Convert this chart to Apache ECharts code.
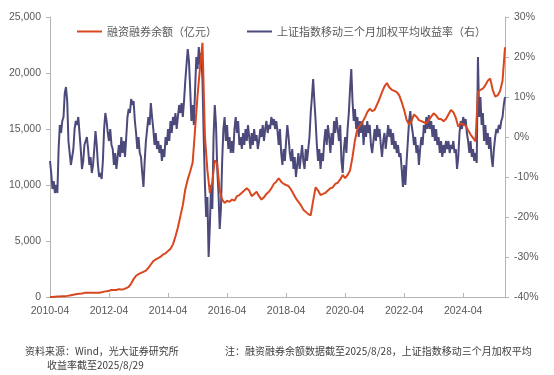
<!DOCTYPE html>
<html>
<head>
<meta charset="utf-8">
<script src="https://cdn.jsdelivr.net/npm/echarts@6/dist/echarts.min.js"></script>
<style>
  html, body { margin: 0; padding: 0; background: #fff; }
  #chart { width: 554px; height: 375px; }
</style>
</head>
<body>
<div id="chart"></div>
<script>
// series names (legend)
const seriesNames = ["融资融券余额（亿元）", "上证指数移动三个月加权平均收益率（右）"];

// x tick labels, one every 2 years starting 2010-04
const xLabels = ["2010-04", "2012-04", "2014-04", "2016-04", "2018-04", "2020-04", "2022-04", "2024-04"];

// margin balance, monthly from 2010-04 to 2025-08 end (亿元)
const marginBalance = [
  1, 10, 25, 35, 45, 60, 75, 100, 127,
  180, 230, 270, 300, 320, 370, 390, 380, 370, 380, 390, 382,
  430, 480, 510, 560, 620, 620, 620, 700, 680, 700, 800, 900,
  1200, 1600, 1900, 2050, 2150, 2250, 2350, 2600, 2900, 3200, 3350, 3480,
  3600, 3800, 3900, 4100, 4300, 4700, 5400, 6200, 7200, 8200, 9600, 10500,
  11200, 12000, 15000, 18000, 20500, 22700, 14300, 11300, 9300, 10300, 12200, 11900,
  9500, 8700, 8400, 8600, 8500, 8700, 8600, 9000, 9100, 9300, 9500, 9700,
  9500, 9000, 9200, 9400, 9000, 8700, 8900, 9200, 9400, 9700, 10100, 10300,
  10600, 10300, 10100, 10000, 9900, 9600, 9200, 8800, 8500, 8200, 7800, 7600,
  7400, 7300, 8600, 9800, 9500, 9100, 9200, 9300, 9500, 9700, 9800, 10100,
  10200, 10500, 10900, 10600, 10900, 11300, 12500, 14000, 15000, 15300, 15600, 16000,
  16500, 16800, 16600, 16700, 17200, 17700, 18300, 18800, 19100, 18700, 18500, 18400,
  18300, 18000, 17400, 16700, 15800, 15400, 15700, 16300, 16100, 15800, 15700, 15600,
  15500, 15800, 16100, 16400, 16200, 15900, 15900, 15700, 15900, 16300, 16700, 16500,
  16000, 15200, 15500, 15400, 15300, 14900, 14500, 14200, 13900, 18300, 18500, 18600,
  18900, 19300, 19500, 18500, 17900, 18000, 18400, 19300, 22300
];

// SSE 3-month weighted moving return, half-monthly from 2010-04 (%)
const indexReturn = [
  -6, -9, -13, -11, -14, -12, -14, -3, 3, 1, 4, 5, 11, 12.5, 9, -1, -4, -7,
  -7, -3, 2, 4, 3, 5, 1, -3, -8, -6, -2, -1, 0, -3, -7, -5, -9, -7, -3, 1.5, -2, -7, -10, -9,
  -10.5, -6, 2, 6, 4, 1, -1, 2, -2, -3, -7, -4, -8, -5, -2, -5, 0, -4, -1, -5, 0, 5, 7, 6,
  9.5, 8, 9, 4, 1, -3, 0, -4, -5, -9, -12.5, -6, -1, 2, 5, 3, 8.5, 5, 2, -2, 1, -3, -1, -4,
  -2, -6, -3, -5, 0, -2, 2, -1, 4, 1, 5, 3, 6, 2, 5, 8, 6, 8.5, 5, 9, 14, 18, 22, 19,
  12, 4, 8, 3, 12, 20, 17, 22.5, 18, 21, 14, 0, -12, -20, -15, -30, -22, -12, -18, 0, 8, 3, -8, -14,
  -23, -18, -6, 2, 5, -1, 3, -3, 0, -4, -1, -4, 2, 5, 1, 4, -2, 0, -3, 1, -2, 2, -1, 3,
  0, -3, 1, -2, 2, -1, 0.5, -3, -1, 2, 0, 3, -1, 2, 4, 1, 3, 2, 5, 3, 4.5, 2, 4, 1.5,
  -2, 2, -4, -7, -3, -6, -1, 3, 0, -4, -6, -3, -8, -5, -10, -7, -4, -8, -5, -2, -6, -8, -3, -6,
  -3, 0, 6, 10, 14.5, 9, 4, -2, -6, -3, -8, -4, -6, -1, 2, -2, 3, 0, -4, 1, -2, 4, 1, 5,
  2, -1, 3, -6, -9, -3, 0, -4, 2, 6, 12, 17, 9, 4, 7, 2, 5, 0, 4, 1, 4, -2, 3, 0,
  4, 1, 3, -2, -4, -1, 2, -1, 3, 0, 2, -2, -5, -1, 1, -3, 0, 3, 0, 2, -2, 1, -3, -1,
  -4, -2, -5, -4, -8, -12.5, -7, -12, -6, -1, 4, 6.5, 3, 1, -2, 0, -4, -2, -7, -3, 0, -2, 3, 1,
  5, 2, 5.5, 2, 4, 0, 3, -1, 2, -2, 0, -4, -1, -5, -2, -4, -1, -3, -1, -4, -2, -3, -1, -4,
  -3, -8, -5, 1, 4, 2, 5, 3, 4.5, 1, -1, -4, -1, -5, -3, -6, -4, -6.5, 20, 5, 10, 3, 6, -1,
  3, -2, 1, -3, 0, -5, -7.5, -3, 0, 2, 1, 3, 2, 4, 5, 8, 10
];

const sourceNote = "资料来源：Wind，光大证券研究所";
const dateNote1 = "注：融资融券余额数据截至2025/8/28，上证指数移动三个月加权平均";
const dateNote2 = "收益率截至2025/8/29";

// x in years since 2010-04
const balanceData = marginBalance.map((v, i) => [i / 12, v]);
const returnData = indexReturn.map((v, j) => [j / 24, v]);

const axisColor = "#b4b4b4";
const labelStyle = { color: "#595959", fontSize: 10.5, fontFamily: "Liberation Sans" };

const chart = echarts.init(document.getElementById("chart"));

chart.setOption({
  animation: false,
  grid: { left: 50, right: 49, top: 17, bottom: 78 },
  legend: {
    data: seriesNames,
    left: 72,
    top: 21,
    icon: "rect",
    itemWidth: 25,
    itemHeight: 2,
    itemGap: 30,
    textStyle: { color: "#595959", fontSize: 11, fontFamily: "Noto Sans CJK SC" },
  },
  xAxis: {
    type: "value",
    min: 0,
    max: (marginBalance.length - 1) / 12,
    interval: 2,
    axisLine: { lineStyle: { color: axisColor } },
    axisTick: { inside: true, length: 4, lineStyle: { color: axisColor } },
    splitLine: { show: false },
    axisLabel: {
      ...labelStyle,
      margin: 9,
      showMaxLabel: false,
      formatter: (v) => xLabels[Math.round(v / 2)] || "",
    },
  },
  yAxis: [
    {
      type: "value",
      min: 0,
      max: 25000,
      interval: 5000,
      axisLine: { show: true, lineStyle: { color: axisColor } },
      axisTick: { show: true, length: 4, lineStyle: { color: axisColor } },
      splitLine: { show: false },
      axisLabel: { ...labelStyle, margin: 9 },
    },
    {
      type: "value",
      min: -40,
      max: 30,
      interval: 10,
      axisLine: { show: true, lineStyle: { color: axisColor } },
      axisTick: { show: true, length: 4, lineStyle: { color: axisColor } },
      splitLine: { show: false },
      axisLabel: { ...labelStyle, margin: 9, formatter: "{value}%" },
    },
  ],
  series: [
    {
      name: seriesNames[0],
      type: "line",
      data: balanceData,
      showSymbol: false,
      z: 3,
      itemStyle: { color: "#d9471f" },
      lineStyle: { width: 2, color: "#d9471f" },
    },
    {
      name: seriesNames[1],
      type: "line",
      yAxisIndex: 1,
      data: returnData,
      showSymbol: false,
      z: 2,
      itemStyle: { color: "#4b4a7a" },
      lineStyle: { width: 2, color: "#4b4a7a" },
    },
  ],
  graphic: [
    { type: "text", left: 25, top: 346, style: { text: sourceNote, fill: "#404040", fontSize: 10, fontFamily: "Noto Sans CJK SC" } },
    { type: "text", left: 225, top: 346, style: { text: dateNote1, fill: "#404040", fontSize: 10, fontFamily: "Noto Sans CJK SC" } },
    { type: "text", left: 47, top: 360, style: { text: dateNote2, fill: "#404040", fontSize: 10, fontFamily: "Noto Sans CJK SC" } },
  ],
});
</script>
</body>
</html>
